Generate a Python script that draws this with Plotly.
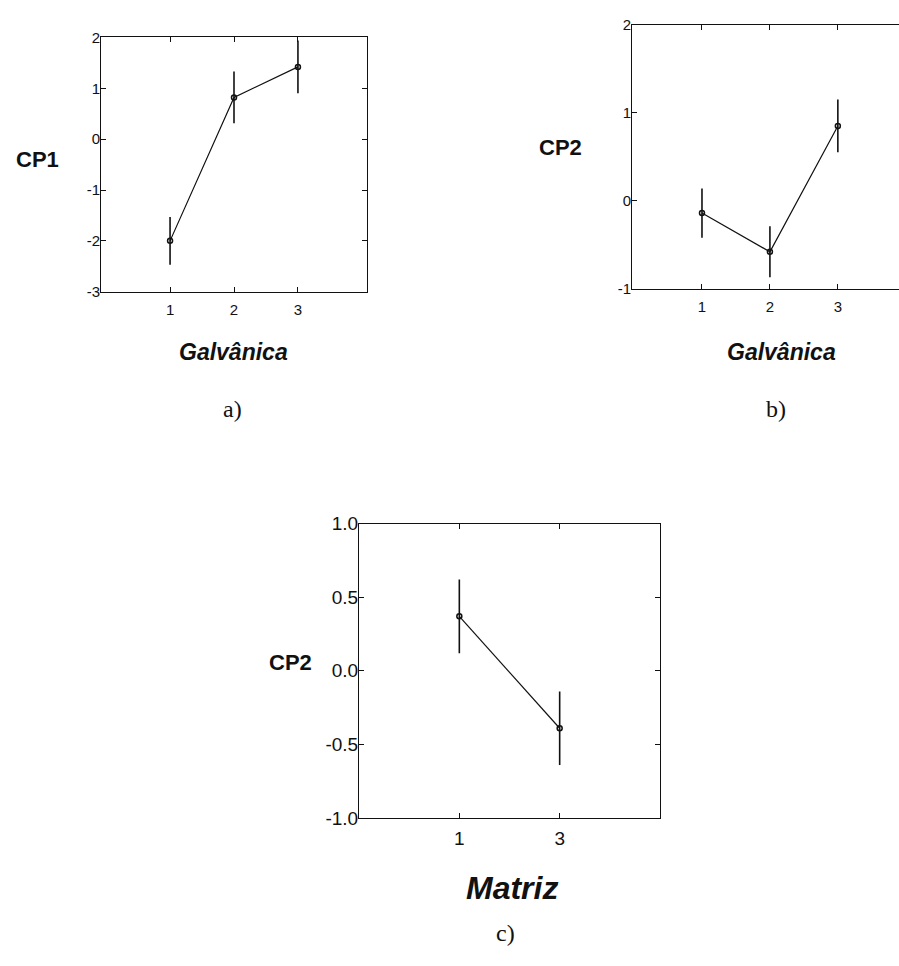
import plotly.graph_objects as go

W, H = 899, 966

# Panel a: CP1 by Galvânica level
galv_x = [1, 2, 3]
cp1_mean = [-2.00, 0.82, 1.42]
cp1_err = [0.47, 0.51, 0.52]

# Panel b: CP2 by Galvânica level
cp2_galv_mean = [-0.14, -0.58, 0.85]
cp2_galv_err = [0.28, 0.29, 0.30]

# Panel c: CP2 by Matriz level (two levels, labelled 1 and 3)
matriz_pos = [1, 2]
matriz_labels = ["1", "3"]
cp2_mat_mean = [0.37, -0.39]
cp2_mat_err = [0.25, 0.25]

# Tick values / labels (plain hyphen for negatives)
a_yticks = [-3, -2, -1, 0, 1, 2]
b_yticks = [-1, 0, 1, 2]
c_yticks = [-1.0, -0.5, 0.0, 0.5, 1.0]

INK = "#111111"
SANS = "Liberation Sans, Arial, sans-serif"
SERIF = "Liberation Serif, Times New Roman, serif"


def px(x):
    return x / W


def py(y):
    return 1 - y / H


def fmt(v, dec=0):
    s = f"{v:.{dec}f}"
    return s.replace("−", "-")


def series(x, y, err, xa, ya):
    return go.Scatter(
        x=x, y=y, xaxis=xa, yaxis=ya, mode="lines+markers",
        line=dict(color=INK, width=1.2),
        marker=dict(symbol="circle-open", size=5, color=INK, line=dict(width=1.5, color=INK)),
        error_y=dict(type="data", array=err, visible=True, color=INK, thickness=1.6, width=0),
        showlegend=False, hoverinfo="skip",
    )


fig = go.Figure()
fig.add_trace(series(galv_x, cp1_mean, cp1_err, "x", "y"))
fig.add_trace(series(galv_x, cp2_galv_mean, cp2_galv_err, "x2", "y2"))
fig.add_trace(series(matriz_pos, cp2_mat_mean, cp2_mat_err, "x3", "y3"))

axis_common = dict(
    showgrid=False, zeroline=False, showline=True, linecolor=INK, linewidth=1,
    ticks="inside", ticklen=5, tickwidth=1, tickcolor=INK,
)
small_tick = dict(family=SANS, size=15, color=INK)
big_tick = dict(family=SANS, size=19, color=INK)

fig.update_layout(
    width=W, height=H,
    margin=dict(l=0, r=0, t=0, b=0),
    paper_bgcolor="white", plot_bgcolor="white",
    # panel a
    xaxis=dict(axis_common, domain=[px(101), px(367)], anchor="y", range=[-0.08, 4.08],
               tickvals=galv_x, mirror="ticks", tickfont=small_tick, ticklabelstandoff=4),
    yaxis=dict(axis_common, domain=[py(288), py(28)], anchor="x", range=[-3, 2],
               tickvals=a_yticks, ticktext=[fmt(v) for v in a_yticks], mirror="ticks",
               tickfont=small_tick, ticklabelstandoff=-3),
    # panel b (right edge runs off the page)
    xaxis2=dict(axis_common, domain=[px(632), 1.0], anchor="y2", range=[-0.03, 3.9],
                tickvals=galv_x, mirror="ticks", tickfont=small_tick, ticklabelstandoff=4),
    yaxis2=dict(axis_common, domain=[py(285), py(15)], anchor="x2", range=[-1, 2],
                tickvals=b_yticks, ticktext=[fmt(v) for v in b_yticks], mirror=False,
                tickfont=small_tick, ticklabelstandoff=-3),
    # panel c
    xaxis3=dict(axis_common, domain=[px(359), px(660)], anchor="y3", range=[0, 3],
                tickvals=matriz_pos, ticktext=matriz_labels, mirror="ticks",
                tickfont=big_tick, ticklabelstandoff=3),
    yaxis3=dict(axis_common, domain=[py(826), py(525)], anchor="x3", range=[-1, 1],
                tickvals=c_yticks, ticktext=[fmt(v, 1) for v in c_yticks], mirror="ticks",
                tickfont=big_tick, ticklabelstandoff=-4),
)


def label(text, x, y, size, family=SANS, bold=False, italic=False):
    if italic:
        text = f"<i>{text}</i>"
    if bold:
        text = f"<b>{text}</b>"
    fig.add_annotation(
        text=text, x=px(x), y=py(y), xref="paper", yref="paper",
        xanchor="center", yanchor="middle", showarrow=False,
        font=dict(family=family, size=size, color=INK),
    )


label("CP1", 37, 153, 22, bold=True)
label("CP2", 560, 141, 22, bold=True)
label("CP2", 290, 667, 22, bold=True)

label("Galvânica", 233, 350, 23, bold=True, italic=True)
label("Galvânica", 781, 350, 23, bold=True, italic=True)
label("Matriz", 512, 898, 32, bold=True, italic=True)

label("a)", 232, 408, 24, family=SERIF)
label("b)", 776, 408, 24, family=SERIF)
label("c)", 505, 943, 24, family=SERIF)

fig.write_html("out.html")
